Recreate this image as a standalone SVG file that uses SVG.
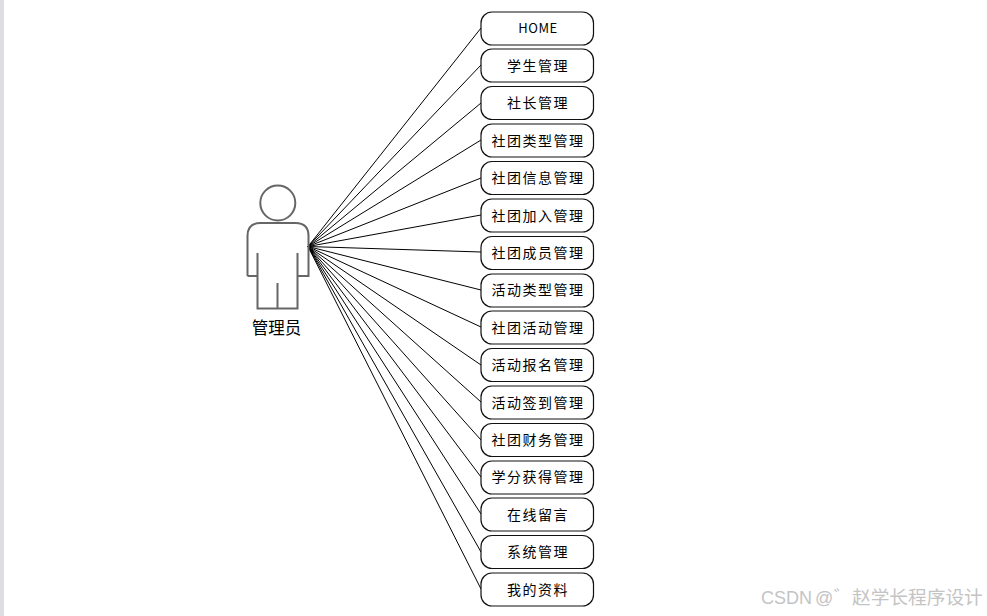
<svg xmlns="http://www.w3.org/2000/svg" width="987" height="616" viewBox="0 0 987 616">
<style>
.n rect{fill:#fff;stroke:#111;stroke-width:1.2}
.n text{font-family:"Noto Sans CJK SC","Noto Sans",sans-serif;font-size:14px;fill:#000;text-anchor:middle;letter-spacing:1.5px}
#connectors line{stroke:#000;stroke-width:1}
.p{fill:none;stroke:#666;stroke-width:2}
</style>
<rect width="987" height="616" fill="#fff"/>
<rect x="0" y="0" width="4" height="616" fill="#dcdee2"/>
<g id="connectors">
<line x1="308" y1="246.500" x2="481" y2="28"/>
<line x1="308" y1="246.500" x2="481" y2="65"/>
<line x1="308" y1="246.500" x2="481" y2="103"/>
<line x1="308" y1="246.500" x2="481" y2="140"/>
<line x1="308" y1="246.500" x2="481" y2="178"/>
<line x1="308" y1="246.500" x2="481" y2="215"/>
<line x1="308" y1="246.500" x2="481" y2="252"/>
<line x1="308" y1="246.500" x2="481" y2="290"/>
<line x1="308" y1="246.500" x2="481" y2="327"/>
<line x1="308" y1="246.500" x2="481" y2="365"/>
<line x1="308" y1="246.500" x2="481" y2="402"/>
<line x1="308" y1="246.500" x2="481" y2="440"/>
<line x1="308" y1="246.500" x2="481" y2="477"/>
<line x1="308" y1="246.500" x2="481" y2="514"/>
<line x1="308" y1="246.500" x2="481" y2="552"/>
<line x1="308" y1="246.500" x2="481" y2="589"/>
</g>
<g id="actor">
<circle class="p" cx="277.800" cy="203" r="17.500"/>
<path class="p" d="M247.500 276V236Q247.500 223 260.500 223H295.500Q308.500 223 308.500 236V276H297.500V253M297.500 276V308.500H257.500V276M257.500 253V276H247.500M277.500 283V308.500"/>
<text x="276.500" y="334" font-family="'Noto Sans CJK SC',sans-serif" font-size="16.500" text-anchor="middle">管理员</text>
</g>
<g id="n1" class="n"><rect x="481" y="12" width="112.500" height="33" rx="11"/><text x="538" y="33" style="letter-spacing:.6px;font-size:13px">HOME</text></g>
<g id="n2" class="n"><rect x="481" y="49" width="112.500" height="33" rx="11"/><text x="538" y="71">学生管理</text></g>
<g id="n3" class="n"><rect x="481" y="86.500" width="112.500" height="33" rx="11"/><text x="538" y="108">社长管理</text></g>
<g id="n4" class="n"><rect x="481" y="124" width="112.500" height="33" rx="11"/><text x="538" y="146">社团类型管理</text></g>
<g id="n5" class="n"><rect x="481" y="161.500" width="112.500" height="33" rx="11"/><text x="538" y="183">社团信息管理</text></g>
<g id="n6" class="n"><rect x="481" y="199" width="112.500" height="33" rx="11"/><text x="538" y="221">社团加入管理</text></g>
<g id="n7" class="n"><rect x="481" y="236.500" width="112.500" height="33" rx="11"/><text x="538" y="258">社团成员管理</text></g>
<g id="n8" class="n"><rect x="481" y="274" width="112.500" height="33" rx="11"/><text x="538" y="295">活动类型管理</text></g>
<g id="n9" class="n"><rect x="481" y="311" width="112.500" height="33" rx="11"/><text x="538" y="333">社团活动管理</text></g>
<g id="n10" class="n"><rect x="481" y="348.500" width="112.500" height="33" rx="11"/><text x="538" y="370">活动报名管理</text></g>
<g id="n11" class="n"><rect x="481" y="386" width="112.500" height="33" rx="11"/><text x="538" y="408">活动签到管理</text></g>
<g id="n12" class="n"><rect x="481" y="423.500" width="112.500" height="33" rx="11"/><text x="538" y="445">社团财务管理</text></g>
<g id="n13" class="n"><rect x="481" y="461" width="112.500" height="33" rx="11"/><text x="538" y="482">学分获得管理</text></g>
<g id="n14" class="n"><rect x="481" y="498" width="112.500" height="33" rx="11"/><text x="538" y="520">在线留言</text></g>
<g id="n15" class="n"><rect x="481" y="535.500" width="112.500" height="33" rx="11"/><text x="538" y="557">系统管理</text></g>
<g id="n16" class="n"><rect x="481" y="573" width="112.500" height="33" rx="11"/><text x="538" y="595">我的资料</text></g>
<text y="604" font-family="'Liberation Sans','Noto Sans CJK SC',sans-serif" font-size="18" fill="#c4c4c4"><tspan x="761">CSDN</tspan><tspan x="815">@</tspan><tspan x="834">゛</tspan><tspan x="852" font-family="'Noto Sans CJK SC',sans-serif" font-size="18.700">赵学长程序设计</tspan></text>
</svg>
